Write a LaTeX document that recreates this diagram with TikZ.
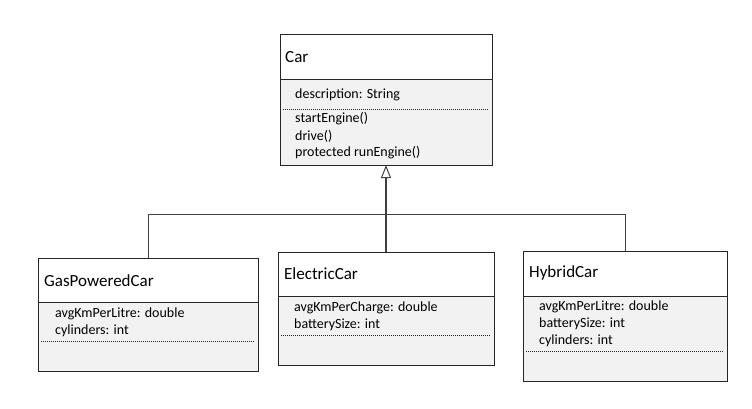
\documentclass[tikz,border=0pt]{standalone}
\usepackage{fontspec}
\setmainfont{Carlito}
\usetikzlibrary{arrows.meta}
\definecolor{bodyfill}{HTML}{F2F2F2}
\definecolor{edge}{HTML}{262626}
\definecolor{connc}{HTML}{404040}
\tikzset{
  box/.style={fill=white, minimum width=#1, inner sep=0pt, outer sep=0pt, anchor=north west},
  border/.style={draw=edge, line width=1pt},
  divider/.style={draw=edge, line width=0.8pt},
  dots/.style={draw=edge, line width=0.8pt, dash pattern=on 1pt off 1pt},
  title/.style={anchor=west, inner sep=0pt, font=\fontsize{17}{19}\selectfont, text=black},
  attr/.style={anchor=west, inner sep=0pt, font=\fontsize{14}{16}\selectfont, text=black},
  conn/.style={draw=connc, line width=1pt},
}
\begin{document}
\begin{tikzpicture}[x=1pt,y=-1pt]
\useasboundingbox (0,0) rectangle (752,409);
% Car
\node[box=212pt, minimum height=130pt] (car) at (280,35) {};
\fill[bodyfill] (car.west |- 0,79) rectangle (car.south east);
\draw[divider] (car.west |- 0,79) -- (car.east |- 0,79);
\draw[dots] (283,109) -- (489,109);
\draw[border] (car.north west) rectangle (car.south east);
\node[title] (carT) at (285,57) {Car};
\node[attr] (carA) at (295,95) {description: String};
\node[attr] (carM1) at (295,119) {startEngine()};
\node[attr] (carM2) at (295,136) {drive()};
\node[attr] (carM3) at (295,153) {protected runEngine()};
% GasPoweredCar
\node[box=220pt, minimum height=113pt] (gas) at (38,258) {};
\fill[bodyfill] (gas.west |- 0,302) rectangle (gas.south east);
\draw[divider] (gas.west |- 0,302) -- (gas.east |- 0,302);
\draw[dots] (41,341) -- (255,341);
\draw[border] (gas.north west) rectangle (gas.south east);
\node[title] (gasT) at (44,281) {GasPoweredCar};
\node[attr] (gasA1) at (55,314) {avgKmPerLitre: double};
\node[attr] (gasA2) at (55,331) {cylinders: int};
% ElectricCar
\node[box=216pt, minimum height=113pt] (elec) at (278,252) {};
\fill[bodyfill] (elec.west |- 0,296) rectangle (elec.south east);
\draw[divider] (elec.west |- 0,296) -- (elec.east |- 0,296);
\draw[dots] (281,335) -- (491,335);
\draw[border] (elec.north west) rectangle (elec.south east);
\node[title] (elecT) at (284,274) {ElectricCar};
\node[attr] (elecA1) at (294,308) {avgKmPerCharge: double};
\node[attr] (elecA2) at (294,325) {batterySize: int};
% HybridCar
\node[box=204pt, minimum height=130pt] (hyb) at (523,251) {};
\fill[bodyfill] (hyb.west |- 0,296) rectangle (hyb.south east);
\draw[divider] (hyb.west |- 0,296) -- (hyb.east |- 0,296);
\draw[dots] (526,351) -- (724,351);
\draw[border] (hyb.north west) rectangle (hyb.south east);
\node[title] (hybT) at (529,273) {HybridCar};
\node[attr] (hybA1) at (539,307) {avgKmPerLitre: double};
\node[attr] (hybA2) at (539,324) {batterySize: int};
\node[attr] (hybA3) at (539,341) {cylinders: int};
% connectors
\coordinate (hub) at (386,214);
\draw[conn] (gas.north) |- (hub);
\draw[conn] (hyb.north) |- (hub);
\draw[conn, line width=1.2pt, -{Triangle[open, length=13pt, width=10pt, line width=1pt]}] (elec.north) -- (car.south);
\end{tikzpicture}
\end{document}
